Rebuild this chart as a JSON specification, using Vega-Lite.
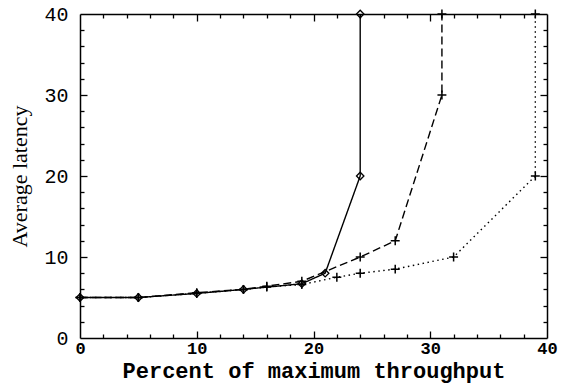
{
  "$schema": "https://vega.github.io/schema/vega-lite/v6.json",
  "width": 467,
  "height": 324,
  "autosize": "none",
  "padding": {"left": 80, "top": 14, "right": 16, "bottom": 47},
  "background": "white",
  "config": {
    "view": {"stroke": null},
    "axis": {"domainColor": "black", "tickColor": "black", "labelColor": "black", "titleColor": "black", "grid": false, "domainWidth": 1.5, "tickWidth": 1.3}
  },
  "data": {
    "values": [
      {"s": "solid", "i": 0, "x": 0, "y": 5},
      {"s": "solid", "i": 1, "x": 5, "y": 5},
      {"s": "solid", "i": 2, "x": 10, "y": 5.5},
      {"s": "solid", "i": 3, "x": 14, "y": 6},
      {"s": "solid", "i": 4, "x": 19, "y": 6.7},
      {"s": "solid", "i": 5, "x": 21, "y": 8},
      {"s": "solid", "i": 6, "x": 24, "y": 20},
      {"s": "solid", "i": 7, "x": 24, "y": 40},
      {"s": "dashed", "i": 0, "x": 0, "y": 5},
      {"s": "dashed", "i": 1, "x": 5, "y": 5},
      {"s": "dashed", "i": 2, "x": 10, "y": 5.6},
      {"s": "dashed", "i": 3, "x": 14, "y": 6},
      {"s": "dashed", "i": 4, "x": 16, "y": 6.4},
      {"s": "dashed", "i": 5, "x": 19, "y": 7},
      {"s": "dashed", "i": 6, "x": 24, "y": 10},
      {"s": "dashed", "i": 7, "x": 27, "y": 12},
      {"s": "dashed", "i": 8, "x": 31, "y": 30},
      {"s": "dashed", "i": 9, "x": 31, "y": 40},
      {"s": "dotted", "i": 0, "x": 0, "y": 5},
      {"s": "dotted", "i": 1, "x": 5, "y": 5},
      {"s": "dotted", "i": 2, "x": 10, "y": 5.5},
      {"s": "dotted", "i": 3, "x": 14, "y": 6},
      {"s": "dotted", "i": 4, "x": 16, "y": 6.3},
      {"s": "dotted", "i": 5, "x": 19, "y": 6.6},
      {"s": "dotted", "i": 6, "x": 22, "y": 7.5},
      {"s": "dotted", "i": 7, "x": 24, "y": 8},
      {"s": "dotted", "i": 8, "x": 27, "y": 8.5},
      {"s": "dotted", "i": 9, "x": 32, "y": 10},
      {"s": "dotted", "i": 10, "x": 39, "y": 20},
      {"s": "dotted", "i": 11, "x": 39, "y": 40}
    ]
  },
  "resolve": {"axis": {"x": "independent", "y": "independent"}},
  "layer": [
    {
      "mark": {"type": "line", "color": "black", "strokeWidth": 1.4},
      "encoding": {
        "x": {"field": "x", "type": "quantitative", "scale": {"domain": [0, 40], "nice": false},
          "axis": {"orient": "bottom", "values": [0, 10, 20, 30, 40], "ticks": false, "domain": false, "labelPadding": 2, "labelFont": "Liberation Mono", "labelFontWeight": "bold", "labelFontSize": 17, "labelFlush": false,
            "title": "Percent of maximum throughput", "titleFont": "Liberation Mono", "titleFontWeight": "bold", "titleFontSize": 22, "titlePadding": 4}},
        "y": {"field": "y", "type": "quantitative", "scale": {"domain": [0, 40], "nice": false},
          "axis": {"orient": "left", "values": [0, 10, 20, 30, 40], "ticks": false, "domain": false, "labelPadding": 12, "labelFont": "Liberation Mono", "labelFontSize": 20, "labelFlush": false,
            "title": "Average latency", "titleFont": "Liberation Serif", "titleFontWeight": "normal", "titleFontSize": 22, "titlePadding": 12}},
        "detail": {"field": "s"},
        "order": {"field": "i", "type": "quantitative"},
        "strokeDash": {"field": "s", "type": "nominal", "scale": {"domain": ["solid", "dashed", "dotted"], "range": [[1, 0], [8, 4], [1.5, 3.5]]}, "legend": null}
      }
    },
    {
      "transform": [{"filter": "datum.s === 'solid'"}],
      "mark": {"type": "point", "shape": "diamond", "filled": false, "color": "black", "size": 55, "strokeWidth": 1.3, "opacity": 1},
      "encoding": {
        "x": {"field": "x", "type": "quantitative", "scale": {"domain": [0, 40], "nice": false},
          "axis": {"orient": "bottom", "values": [2, 4, 6, 8, 10, 12, 14, 16, 18, 20, 22, 24, 26, 28, 30, 32, 34, 36, 38], "labels": false, "title": null,
            "tickSize": {"condition": {"test": "datum.value % 10 === 0", "value": -7}, "value": -4}}},
        "y": {"field": "y", "type": "quantitative", "scale": {"domain": [0, 40], "nice": false},
          "axis": {"orient": "left", "values": [2, 4, 6, 8, 10, 12, 14, 16, 18, 20, 22, 24, 26, 28, 30, 32, 34, 36, 38], "labels": false, "title": null,
            "tickSize": {"condition": {"test": "datum.value % 10 === 0", "value": -7}, "value": -4}}}
      }
    },
    {
      "transform": [{"filter": "datum.s !== 'solid'"}],
      "mark": {"type": "point", "shape": "M-1,0L1,0M0,-1L0,1", "filled": false, "color": "black", "size": 80, "strokeWidth": 1.5, "opacity": 1},
      "encoding": {
        "x": {"field": "x", "type": "quantitative", "scale": {"domain": [0, 40], "nice": false},
          "axis": {"orient": "top", "values": [2, 4, 6, 8, 10, 12, 14, 16, 18, 20, 22, 24, 26, 28, 30, 32, 34, 36, 38], "labels": false, "title": null,
            "tickSize": {"condition": {"test": "datum.value % 10 === 0", "value": -7}, "value": -4}}},
        "y": {"field": "y", "type": "quantitative", "scale": {"domain": [0, 40], "nice": false},
          "axis": {"orient": "right", "values": [2, 4, 6, 8, 10, 12, 14, 16, 18, 20, 22, 24, 26, 28, 30, 32, 34, 36, 38], "labels": false, "title": null,
            "tickSize": {"condition": {"test": "datum.value % 10 === 0", "value": -7}, "value": -4}}}
      }
    }
  ]
}
